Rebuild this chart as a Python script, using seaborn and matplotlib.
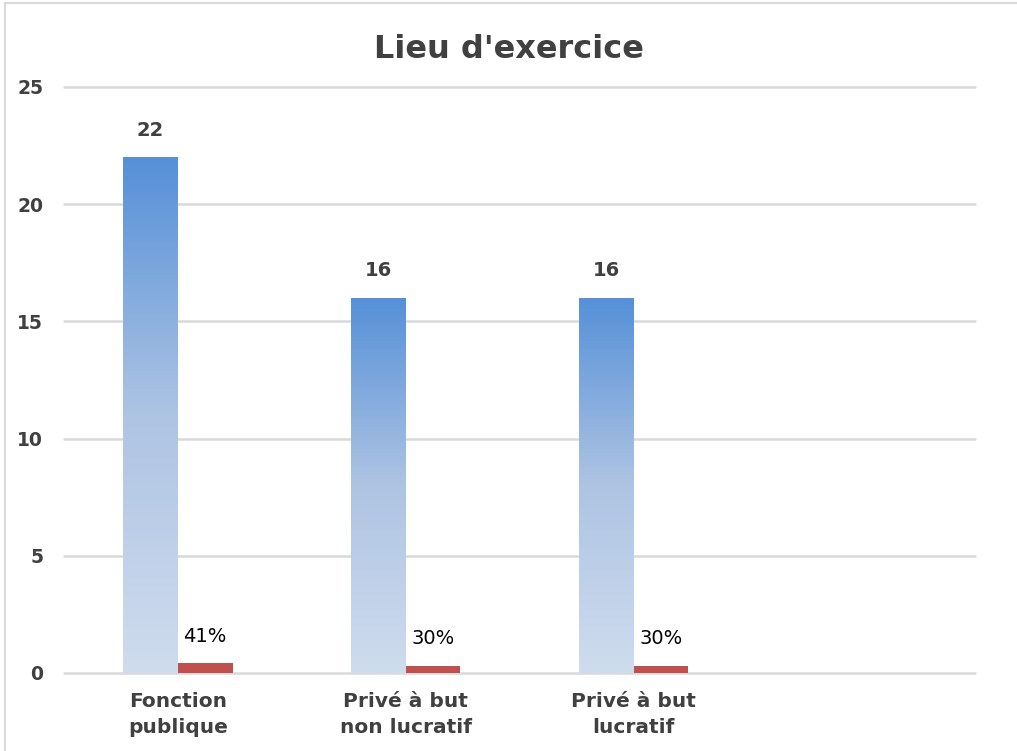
import numpy as np
import pandas as pd
import matplotlib
matplotlib.use("Agg")
import matplotlib.pyplot as plt
import seaborn as sns
from matplotlib.colors import LinearSegmentedColormap
from matplotlib.patches import Rectangle

categories = ["Fonction\npublique", "Privé à but\nnon lucratif", "Privé à but\nlucratif"]
counts = [22, 16, 16]
shares = [0.41, 0.30, 0.30]
share_labels = ["41%", "30%", "30%"]
title = "Lieu d'exercice"
yticks = [0, 5, 10, 15, 20, 25]

sns.set_theme(style="white")
plt.rcParams['font.family'] = ['DejaVu Sans']

df = pd.DataFrame({
    "cat": categories * 2,
    "val": counts + shares,
    "serie": ["n"] * 3 + ["pct"] * 3,
})

fig = plt.figure(figsize=(10.17, 7.51), dpi=100)
ax = fig.add_axes([64/1017, 1-673/751, (975-64)/1017, (673-87)/751])

sns.barplot(data=df, x="cat", y="val", hue="serie", order=categories,
            palette={"n": "#5590d8", "pct": "#c0504d"}, width=0.48,
            legend=False, ax=ax, saturation=1, edgecolor="none")

ax.set_xlim(-0.5, 3.5)
ax.set_ylim(0, 25)
ax.set_yticks(yticks)
ax.yaxis.grid(True, color="#d9d9d9", linewidth=1.8)
for gl in ax.get_ygridlines():
    gl.set_clip_on(False)
ax.set_axisbelow(True)
for s in ax.spines.values():
    s.set_visible(False)
ax.tick_params(axis="both", length=0, labelcolor="#404040")
ax.tick_params(axis="y", pad=15, labelsize=13.5)
ax.tick_params(axis="x", pad=14, labelsize=14.5)
for lab in ax.get_yticklabels():
    lab.set_fontweight("bold")
for lab in ax.get_xticklabels():
    lab.set_fontweight("bold")
    lab.set_linespacing(1.45)
    lab.set_verticalalignment("top")
ax.set_xlabel("")
ax.set_ylabel("")

# gradient for blue bars
cmap = LinearSegmentedColormap.from_list("g", ["#cfdcee", "#aec4e3", "#5590d8"])
grad = np.linspace(0, 1, 256).reshape(-1, 1)
blue_patches = ax.containers[0].patches
for p in blue_patches:
    x0, y0 = p.get_x(), p.get_y()
    w, h = p.get_width(), p.get_height()
    im = ax.imshow(grad, cmap=cmap, aspect="auto", origin="lower",
                   extent=[x0, x0 + w, y0, y0 + h], zorder=p.get_zorder() + 0.1)
    im.set_clip_path(p)
ax.set_xlim(-0.5, 3.5)
ax.set_ylim(0, 25)

for p, v in zip(blue_patches, counts):
    ax.annotate(str(v), (p.get_x() + p.get_width()/2, p.get_height()),
                xytext=(0, 27), textcoords="offset pixels",
                ha="center", va="center", fontsize=14, fontweight="bold", color="#404040")
for p, t in zip(ax.containers[1].patches, share_labels):
    ax.annotate(t, (p.get_x() + p.get_width()/2, p.get_height()),
                xytext=(0, 27), textcoords="offset pixels",
                ha="center", va="center", fontsize=14, color="#000000")

fig.text(0.5, 1-49/751, title, ha="center", va="center", fontsize=23,
         fontweight="bold", color="#404040")

fig.patches.append(Rectangle((5/1017, -0.1), 1.2, 1-3/751+0.1, transform=fig.transFigure,
                             fill=False, edgecolor="#d9d9d9", linewidth=1.5, figure=fig))

fig.savefig("out.png", dpi=100)
